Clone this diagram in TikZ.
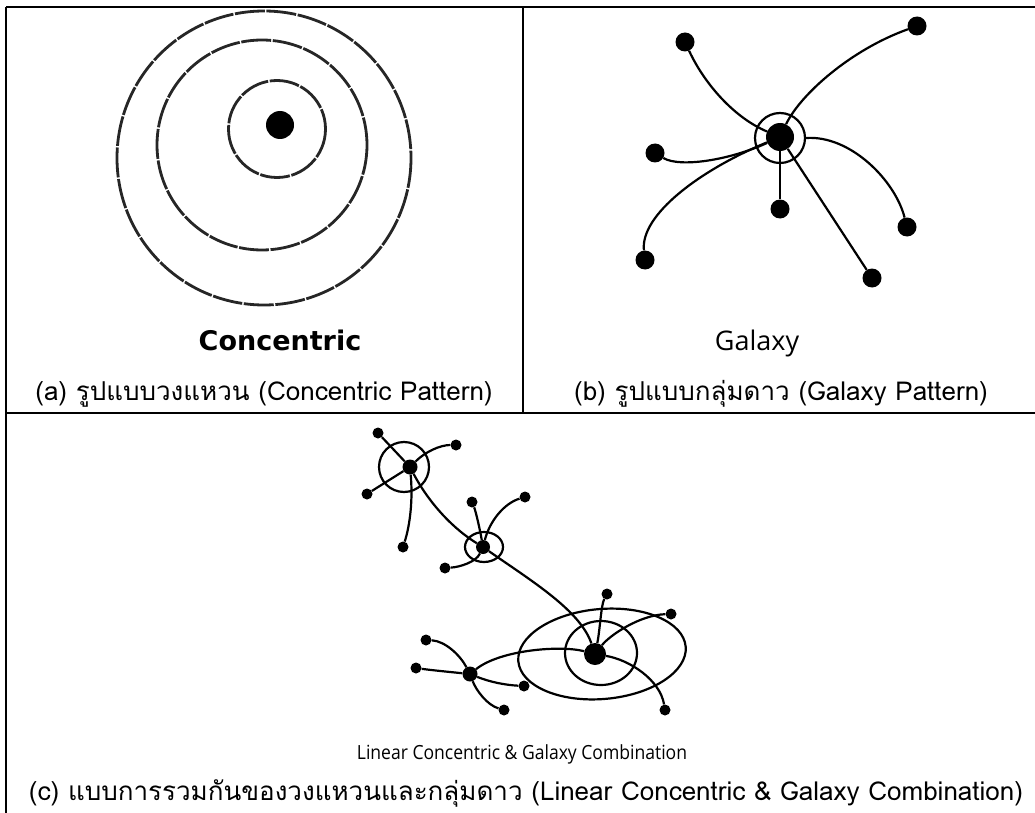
\documentclass[tikz,border=0pt]{standalone}
\usepackage{fontspec}
\usepackage{tikz}
\usetikzlibrary{positioning,calc}
\newfontfamily\thaifont[Script=Thai]{Loma}
\newfontfamily\labelfont{Open Sans}
\newfontfamily\boldlabelfont{DejaVu Sans}
\newfontfamily\smalllabelfont[FakeStretch=0.9]{Open Sans}

\begin{document}
\begin{tikzpicture}[x=1pt, y=-1pt,
  hub/.style={circle, fill=black, inner sep=0pt, minimum size=#1},
  star/.style={circle, fill=black, inner sep=0pt, minimum size=#1},
  ring/.style={circle, draw, line width=2.2pt, inner sep=0pt, minimum size=#1},
  link/.style={line width=2.2pt},
  orbit/.style={line width=2.8pt, black!85, dash pattern=on 30pt off 1.6pt},
  frame/.style={line width=1.6pt},
  caption/.style={anchor=base, inner sep=0pt, font=\thaifont\fontsize{26}{30}\selectfont}]
\useasboundingbox (0,0) rectangle (1035,813);
% frame
\draw[frame] (6,7) -- (1035,7);
\draw[frame] (6,7) -- (6,813);
\draw[frame] (523,7) -- (523,413);
\draw[frame] (6,413) -- (1035,413);

% (a) concentric
\draw[orbit] (264,158) circle[radius=147];
\draw[orbit] (262,145) circle[radius=105];
\draw[orbit] (277,129) circle[radius=48.5];
\node[hub=28pt] (hubA) at (280,125) {};
\node[anchor=base, inner sep=0pt, font=\boldlabelfont\bfseries\fontsize{27}{30}\selectfont] (lblA) at (280,350) {Concentric};
\node[caption] (capA) at (264,400) {(a) รูปแบบวงแหวน (Concentric Pattern)};

% (b) galaxy
\node[ring=50pt] (ringB) at (780,138) {};
\node[hub=28pt] (hubB) at (780,137) {};
\node[star=19pt] (b1) at (685,42) {};
\node[star=19pt] (b2) at (917,26) {};
\node[star=19pt] (b3) at (655,153) {};
\node[star=19pt] (b4) at (645,260) {};
\node[star=19pt] (b5) at (780,209) {};
\node[star=19pt] (b6) at (907,227) {};
\node[star=19pt] (b7) at (872,278) {};
\draw[link] (b1) .. controls (705,85) and (735,118) .. (hubB);
\draw[link] (hubB) .. controls (800,95) and (850,50) .. (b2);
\draw[link] (b3) .. controls (680,168) and (730,160) .. (hubB);
\draw[link] (b4) .. controls (640,215) and (700,170) .. (hubB);
\draw[link] (hubB) -- (b5);
\draw[link] (ringB.east) .. controls (850,135) and (895,180) .. (b6);
\draw[link] (hubB) -- (b7);
\node[anchor=base, inner sep=0pt, font=\labelfont\fontsize{27}{30}\selectfont] (lblB) at (757,350) {Galaxy};
\node[caption] (capB) at (781,400) {(b) รูปแบบกลุ่มดาว (Galaxy Pattern)};

% (c) combination
\node[ring=50pt] (ringC1) at (404,467) {};
\node[hub=15pt] (hubC1) at (410,467) {};
\node[star=11pt] (c11) at (378,433) {};
\node[star=11pt] (c12) at (456,445) {};
\node[star=11pt] (c13) at (367,494) {};
\node[star=11pt] (c14) at (403,547) {};
\draw[link] (hubC1) -- (c11);
\draw[link] (hubC1) .. controls (425,452) and (440,445) .. (c12);
\draw[link] (hubC1) -- (c13);
\draw[link] (hubC1) .. controls (413,500) and (410,525) .. (c14);

\draw[link] (484,547) ellipse[x radius=19, y radius=15];
\node[hub=14pt] (hubC2) at (483,547) {};
\node[star=11pt] (c21) at (472,502) {};
\node[star=11pt] (c22) at (525,497) {};
\node[star=11pt] (c23) at (445,568) {};
\draw[link] (hubC2) .. controls (480,530) and (476,512) .. (c21);
\draw[link] (hubC2) .. controls (490,520) and (505,503) .. (c22);
\draw[link] (hubC2) .. controls (476,562) and (460,567) .. (c23);
\draw[link] (hubC1) .. controls (430,505) and (455,530) .. (hubC2);

\draw[link] (601,653) ellipse[x radius=36, y radius=32];
\draw[link, rotate around={5:(602,654)}] (602,654) ellipse[x radius=84, y radius=45];
\node[hub=22pt] (hubC4) at (595,654) {};
\node[star=11pt] (c41) at (607,594) {};
\node[star=11pt] (c42) at (671,614) {};
\node[star=11pt] (c43) at (665,710) {};
\draw[link] (hubC4) .. controls (600,630) and (601,605) .. (c41);
\draw[link] (hubC4) .. controls (610,635) and (640,615) .. (c42);
\draw[link] (hubC4) .. controls (630,660) and (660,680) .. (c43);
\draw[link] (hubC2) .. controls (530,580) and (580,610) .. (hubC4);

\node[hub=15pt] (hubC3) at (470,674) {};
\node[star=11pt] (c31) at (426,640) {};
\node[star=11pt] (c32) at (416,668) {};
\node[star=11pt] (c33) at (524,686) {};
\node[star=11pt] (c34) at (504,710) {};
\draw[link] (hubC3) .. controls (460,655) and (445,641) .. (c31);
\draw[link] (hubC3) .. controls (450,672) and (430,670) .. (c32);
\draw[link] (hubC3) .. controls (490,682) and (505,685) .. (c33);
\draw[link] (hubC3) .. controls (476,690) and (487,705) .. (c34);
\draw[link] (hubC4) .. controls (560,645) and (500,650) .. (hubC3);

\node[anchor=base, inner sep=0pt, font=\smalllabelfont\fontsize{19.5}{22}\selectfont] (lblC) at (522,759) {Linear Concentric \& Galaxy Combination};
\node[caption] (capC) at (526,800) {(c) แบบการรวมกันของวงแหวนและกลุ่มดาว (Linear Concentric \& Galaxy Combination)};
\end{tikzpicture}
\end{document}
